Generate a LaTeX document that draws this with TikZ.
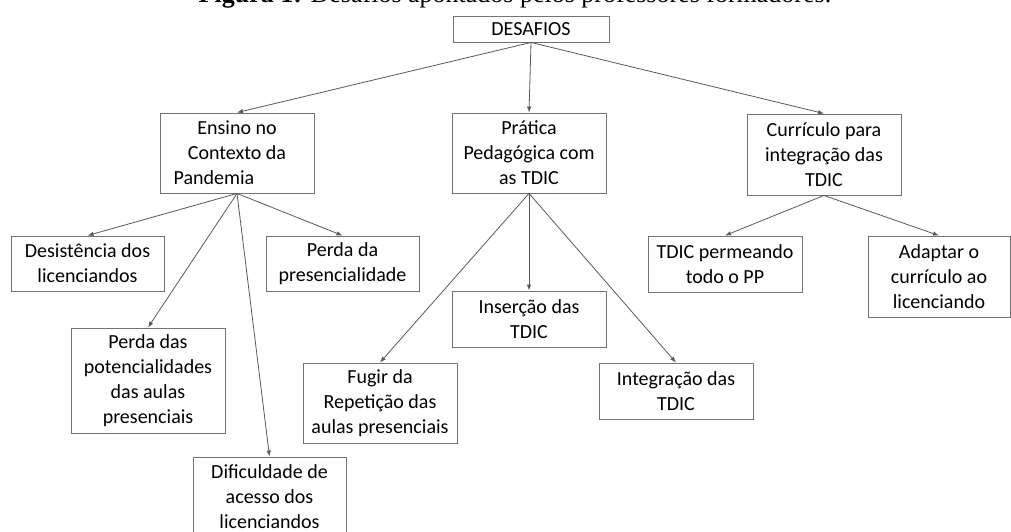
\documentclass[tikz,border=0pt]{standalone}
\usepackage{fontspec}
\setmainfont{Carlito}
\newfontfamily\capfont{Liberation Serif}
\usetikzlibrary{arrows.meta}

\begin{document}
\begin{tikzpicture}[x=1pt, y=-1pt,
		node_style/.style={rectangle,draw=black!55,line width=0.9pt,fill=white,align=center,
			minimum width=154pt,minimum height=80pt,inner sep=0pt,font=\fontsize{20}{25}\selectfont},
		node_style1/.style={node_style,minimum height=56pt},
		edge_style/.style={draw=black!65,line width=0.8pt,-{Latex[length=6pt,width=4.5pt]}}]
		
		\useasboundingbox (0,0) rectangle (1011,532);
		
		\node[anchor=base,inner sep=0pt,font=\capfont\fontsize{26}{30}\selectfont] (cap) at (515,3)
			{\textbf{Figura 1:} Desafios apontados pelos professores formadores.};
		
		\node[node_style,minimum width=156pt,minimum height=26pt] (n0) at (531,29) {DESAFIOS};
		\node[node_style] (n1) at (237,153) {Ensino no\\ Contexto da\\ Pandemia\hspace*{46pt}};
		\node[node_style] (n2) at (529,153) {Prática\\ Pedagógica com\\ as TDIC};
		\node[node_style,minimum height=81pt] (n3) at (824,154.5) {Currículo para\\ integração das\\ TDIC};
		\node[node_style1,minimum width=153pt,minimum height=55pt] (n4) at (87.5,263.5) {Desistência dos\\ licenciandos};
		\node[node_style1,minimum width=153pt,minimum height=55pt] (n5) at (342.5,263.5) {Perda da\\ presencialidade};
		\node[node_style,minimum height=105pt] (n6) at (148,380.5) {Perda das\\ potencialidades\\ das aulas\\ presenciais};
		\node[node_style,minimum width=153pt] (n7) at (269.5,497) {Dificuldade de\\ acesso dos\\ licenciandos};
		\node[node_style] (n8) at (380,403) {Fugir da\\ Repetição das\\ aulas presenciais};
		\node[node_style1] (n9) at (529,319) {Inserção das\\ TDIC};
		\node[node_style1] (n10) at (676,391) {Integração das\\ TDIC};
		\node[node_style1] (n11) at (725,264) {TDIC permeando\\ todo o PP};
		\node[node_style,minimum width=142pt,minimum height=81pt] (n12) at (939,276.5) {Adaptar o\\ currículo ao\\ licenciando};
		
		\draw[edge_style]  (n0.south) -- (n1.north);
		\draw[edge_style]  (n0.south) -- (n2.north);
		\draw[edge_style]  (n0.south) -- (n3.north);
		\draw[edge_style]  (n1.south) -- (n4.north);
		\draw[edge_style]  (n1.south) -- (n5.north);
		\draw[edge_style]  (n1.south) -- (n6.north);
		\draw[edge_style]  (n1.south) -- (n7.north);
		\draw[edge_style]  (n2.south) -- (n8.north);
		\draw[edge_style]  (n2.south) -- (n9.north);
		\draw[edge_style]  (n2.south) -- (n10.north);
		\draw[edge_style]  (n3.south) -- (n11.north);
		\draw[edge_style]  (n3.south) -- (n12.north);
		
\end{tikzpicture}
\end{document}
